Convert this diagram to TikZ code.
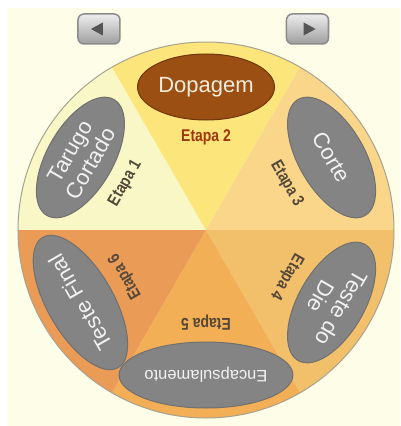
\documentclass[tikz,border=0pt]{standalone}
\usepackage{fontspec}
\setmainfont{Liberation Sans}
\newfontfamily\etapafont[FakeStretch=0.82]{Liberation Sans}
\usepackage{xcolor}
\usetikzlibrary{shapes.geometric}

\definecolor{bgcream}{HTML}{FEFDE8}
\definecolor{secA}{HTML}{F9F7C5}
\definecolor{secB}{HTML}{FCE57B}
\definecolor{secC}{HTML}{F9D68A}
\definecolor{secD}{HTML}{F2BF6B}
\definecolor{secE}{HTML}{F2AF55}
\definecolor{secF}{HTML}{EA9B56}
\definecolor{rimgray}{HTML}{A8A290}
\definecolor{stagegray}{HTML}{848484}
\definecolor{stageedge}{HTML}{707070}
\definecolor{stagetext}{HTML}{F2F2F2}
\definecolor{dopafill}{HTML}{9B4F12}
\definecolor{dopaedge}{HTML}{6E3508}
\definecolor{dopatext}{HTML}{F8ECDA}
\definecolor{etapagray}{HTML}{55483A}
\definecolor{etapared}{HTML}{9C3A0E}
\definecolor{btnedge}{HTML}{8C8C8C}
\definecolor{btntop}{HTML}{EDEDED}
\definecolor{btnbottom}{HTML}{9E9E9E}
\definecolor{btnarrow}{HTML}{555555}

\begin{document}
\begin{tikzpicture}[
    x=1pt, y=1pt,
    stage/.style={ellipse, draw=stageedge, line width=1pt, fill=stagegray, text=stagetext,
        minimum width=134, minimum height=66, inner sep=0pt, align=center,
        font=\fontsize{22}{24}\selectfont},
    etapa/.style={font=\etapafont\bfseries\fontsize{17}{18}\selectfont, text=etapagray},
    btn/.style={draw=btnedge, line width=1.5pt, rounded corners=6pt, top color=btntop,
        bottom color=btnbottom, minimum width=42, minimum height=30, inner sep=0pt},
    tri/.style={isosceles triangle, isosceles triangle stretches, fill=btnarrow,
        minimum width=13, minimum height=12, inner sep=0pt}
]
\useasboundingbox (-206,-196) rectangle (194,230);
\fill[bgcream] (-199,-196) rectangle (194,222);

% wheel
\fill[secA] (0,0) -- (120:188) arc[start angle=120, end angle=180, radius=188] -- cycle;
\fill[secB] (0,0) -- (60:188) arc[start angle=60, end angle=120, radius=188] -- cycle;
\fill[secC] (0,0) -- (0:188) arc[start angle=0, end angle=60, radius=188] -- cycle;
\fill[secD] (0,0) -- (-60:188) arc[start angle=-60, end angle=0, radius=188] -- cycle;
\fill[secE] (0,0) -- (240:188) arc[start angle=240, end angle=300, radius=188] -- cycle;
\fill[secF] (0,0) -- (180:188) arc[start angle=180, end angle=240, radius=188] -- cycle;
\draw[rimgray, line width=1pt] (0,0) circle[radius=188];

% stages
\node[stage, rotate=60] (tarugo) at (150:145) {Tarugo\\Cortado};
\node[stage, fill=dopafill, draw=dopaedge, text=dopatext, minimum width=137] (dopagem) at (90:143) {Dopagem};
\node[stage, rotate=-60] (corte) at (30:145) {Corte};
\node[stage, rotate=-120] (testedie) at (-30:145) {Teste do\\Die};
\node[stage, rotate=180, font=\fontsize{16.5}{18}\selectfont] (encaps) at (-90:145) {Encapsulamento};
\node[stage, rotate=120] (testefinal) at (210:145) {Teste Final};

\node[etapa, rotate=60] (etapa1) at (150:93) {Etapa 1};
\node[etapa, text=etapared] (etapa2) at (90:93) {Etapa 2};
\node[etapa, rotate=-60] (etapa3) at (30:93) {Etapa 3};
\node[etapa, rotate=-120] (etapa4) at (-30:93) {Etapa 4};
\node[etapa, rotate=180] (etapa5) at (-90:93) {Etapa 5};
\node[etapa, rotate=120] (etapa6) at (210:93) {Etapa 6};

% buttons
\node[btn] (prevbtn) at (-107,201) {};
\node[tri, shape border rotate=180] (prevarrow) at (prevbtn) {};
\node[btn] (nextbtn) at (101.5,201) {};
\node[tri] (nextarrow) at (nextbtn) {};

\end{tikzpicture}
\end{document}
